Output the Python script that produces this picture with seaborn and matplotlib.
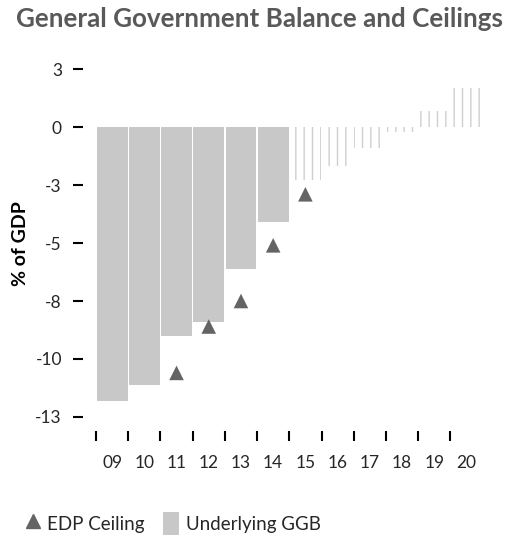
import matplotlib
matplotlib.use("Agg")
import matplotlib.pyplot as plt
from matplotlib.lines import Line2D
from matplotlib.patches import Patch
import seaborn as sns
import pandas as pd

# data
years = ["09", "10", "11", "12", "13", "14", "15", "16", "17", "18", "19", "20"]
ggb = [-11.8, -11.1, -9.0, -8.4, -6.1, -4.1, -2.3, -1.7, -0.9, -0.2, 0.7, 1.7]
n_actual = 6  # 09-14 solid, 15-20 forecast (hatched)
edp_years = ["11", "12", "13", "14", "15"]
edp_ceiling = [-10.6, -8.6, -7.5, -5.1, -2.9]
ytick_vals = [2.5, 0, -2.5, -5, -7.5, -10, -12.5]
ytick_labels = ["3", "0", "-3", "-5", "-8", "-10", "-13"]

bar_color = "#c8c8c8"
tri_color = "#646464"

sns.set_style("white")
plt.rcParams["font.family"] = ["Lato", "DejaVu Sans"]
plt.rcParams["hatch.linewidth"] = 1.0
plt.rcParams["hatch.color"] = "#cfcfcf"

df = pd.DataFrame({"year": years, "ggb": ggb})
edp_df = pd.DataFrame({"pos": [years.index(y) for y in edp_years], "edp": edp_ceiling})

fig = plt.figure(figsize=(5.13, 5.35), dpi=100)
ax = fig.add_axes([0.162, 0.1946, 0.785, 0.698])

sns.barplot(data=df, x="year", y="ggb", order=years, color=bar_color,
            width=0.96, saturation=1, ax=ax)
for i, p in enumerate(ax.patches):
    p.set_linewidth(0)
    if i >= n_actual:
        p.set_facecolor("none")
        p.set_edgecolor("#cfcfcf")
        p.set_hatch("||")

sns.scatterplot(data=edp_df, x="pos", y="edp", marker="^", s=110,
                color=tri_color, edgecolor="none", ax=ax, zorder=3)

ax.set_xlim(-0.9, 11.6)
ax.set_ylim(-13.1, 3.0)
ax.set_yticks(ytick_vals)
ax.set_yticklabels(ytick_labels)
ax.set_xticks(range(len(years)))
ax.set_xticklabels(years)
ax.set_xticks([i - 0.5 for i in range(len(years))], minor=True)
ax.tick_params(axis="x", which="major", length=0, pad=17, labelsize=12.5)
ax.tick_params(axis="x", which="minor", length=7.2, width=1.5, color="black",
               direction="out", bottom=True)
ax.tick_params(axis="y", length=7.2, width=1.5, color="black", direction="out",
               left=True, pad=8, labelsize=12.5)
for s in ax.spines.values():
    s.set_visible(False)
ax.set_xlabel("")
ax.set_ylabel("")

fig.text(20 / 513, 1 - 244 / 535, "% of GDP", rotation=90, ha="center", va="center",
         fontsize=14, fontweight="bold", color="black")
fig.text(0.505, 1 - 19 / 535, "General Government Balance and Ceilings",
         ha="center", va="center", fontsize=18.7, fontweight="bold", color="#595959")

handles = [Line2D([], [], marker="^", color=tri_color, linestyle="none", markersize=10),
           Patch(facecolor=bar_color, edgecolor="none")]
fig.legend(handles, ["EDP Ceiling", "Underlying GGB"], loc="lower left",
           bbox_to_anchor=(0.015, -0.035), ncol=2, frameon=False, fontsize=13.5,
           handlelength=0.85, handleheight=1.7, handletextpad=0.35, columnspacing=1.0)

fig.savefig("out.png", dpi=100)
